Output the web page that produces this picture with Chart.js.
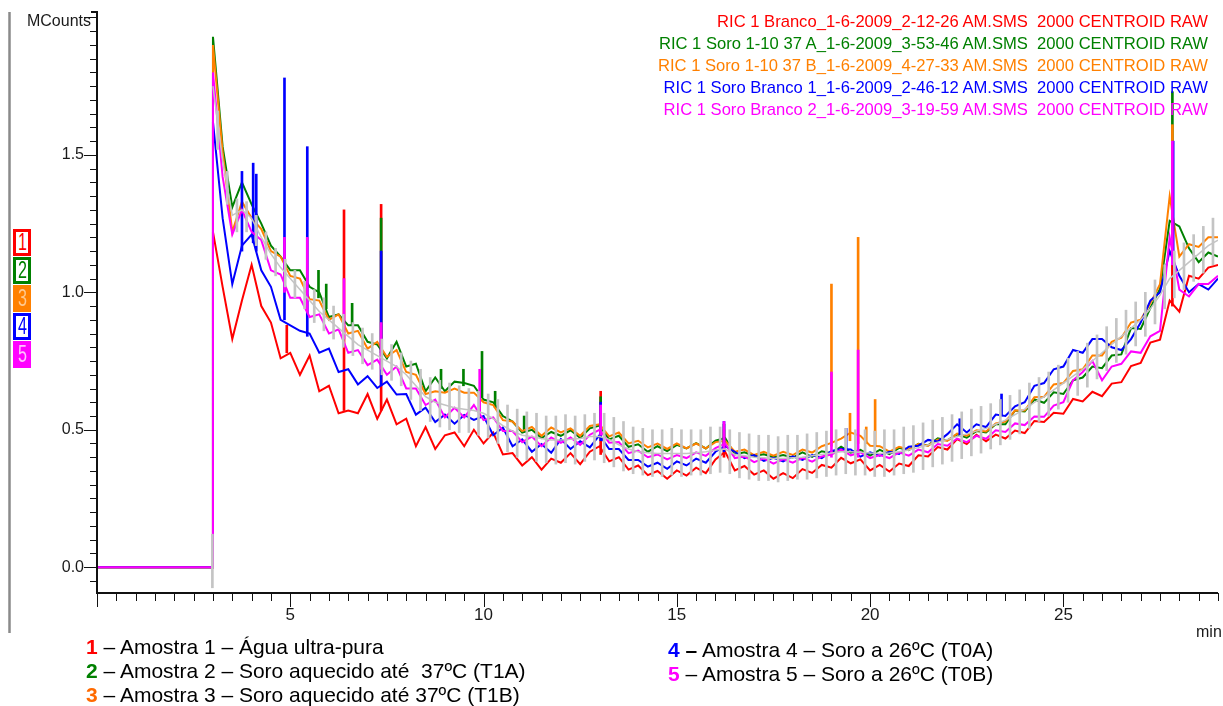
<!DOCTYPE html>
<html lang="pt">
<head>
<meta charset="utf-8">
<title>RIC 1 - Branco e Soro</title>
<script src="https://cdn.jsdelivr.net/npm/chart.js@4.4.1/dist/chart.umd.min.js"></script>
<style>
  html, body { margin: 0; padding: 0; background: #fff; }
  body { width: 1223px; height: 706px; position: relative; overflow: hidden;
         font-family: 'Liberation Sans', Arial, sans-serif; }
  #chromatogram { position: absolute; left: 0; top: 0; }
  .runs { position: absolute; right: 15px; top: 11px; text-align: right;
          font-size: 16.6px; line-height: 22px; white-space: pre; }
  .tags { position: absolute; left: 13px; top: 229px; }
  .tag { box-sizing: border-box; width: 18px; height: 27px; border: 3px solid;
         margin-bottom: 1px; background: #fff; text-align: center;
         font-size: 23px; line-height: 21px; overflow: hidden; }
  .tag span { display: inline-block; transform: scaleX(0.7); }
  .key { position: absolute; font-size: 21px; line-height: 24px; white-space: pre; color: #000; }
</style>
</head>
<body>
<canvas id="chromatogram" width="1223" height="706"></canvas>
<div class="runs" id="runs"></div>
<div class="tags" id="tags"></div>
<div class="key" id="keyLeft" style="left:86px; top:635px;"></div>
<div class="key" id="keyRight" style="left:668px; top:638px;"></div>
<script>
// RIC traces in MCounts, one reading every 0.25 min from the injection at 3.0 min
const scanStart = 3.0;
const scanStep = 0.25;

const ricAgua = [
  1.22, 1.02, 0.83, 0.97, 1.10, 0.95, 0.89, 0.76, 0.78, 0.70,
  0.77, 0.64, 0.66, 0.56, 0.57, 0.56, 0.63, 0.54, 0.61, 0.52,
  0.54, 0.44, 0.51, 0.43, 0.48, 0.49, 0.44, 0.50, 0.45, 0.49,
  0.41, 0.415, 0.37, 0.40, 0.355, 0.395, 0.38, 0.415, 0.375, 0.42,
  0.44, 0.385, 0.40, 0.355, 0.37, 0.335, 0.35, 0.322, 0.352, 0.333,
  0.362, 0.342, 0.392, 0.42, 0.352, 0.368, 0.337, 0.352, 0.322, 0.342,
  0.324, 0.357, 0.343, 0.372, 0.362, 0.398, 0.378, 0.392, 0.352, 0.372,
  0.348, 0.377, 0.368, 0.407, 0.403, 0.437, 0.428, 0.466, 0.448, 0.482,
  0.458, 0.482, 0.468, 0.497, 0.488, 0.532, 0.528, 0.562, 0.558, 0.612,
  0.603, 0.638, 0.622, 0.668, 0.673, 0.732, 0.743, 0.817, 0.828, 0.97,
  0.93, 1.06, 1.05, 1.09, 1.10
];
const ricSoro37A = [
  1.93, 1.53, 1.31, 1.40, 1.32, 1.25, 1.17, 1.13, 1.08, 1.08,
  1.02, 1.00, 0.91, 0.92, 0.88, 0.88, 0.82, 0.81, 0.76, 0.82,
  0.73, 0.74, 0.64, 0.69, 0.64, 0.675, 0.67, 0.66, 0.61, 0.60,
  0.55, 0.53, 0.49, 0.50, 0.47, 0.492, 0.478, 0.498, 0.47, 0.505,
  0.515, 0.465, 0.478, 0.438, 0.447, 0.42, 0.44, 0.422, 0.445, 0.432,
  0.451, 0.432, 0.46, 0.47, 0.41, 0.418, 0.405, 0.411, 0.40, 0.408,
  0.399, 0.418, 0.401, 0.422, 0.415, 0.438, 0.417, 0.427, 0.406, 0.427,
  0.411, 0.434, 0.426, 0.449, 0.443, 0.469, 0.461, 0.483, 0.471, 0.495,
  0.49, 0.52, 0.52, 0.57, 0.567, 0.61, 0.598, 0.636, 0.63, 0.68,
  0.69, 0.73, 0.724, 0.77, 0.774, 0.87, 0.867, 0.943, 1.012, 1.26,
  1.24, 1.16, 1.11, 1.145, 1.13
];
const ricSoro37B = [
  1.90, 1.51, 1.22, 1.33, 1.27, 1.23, 1.15, 1.13, 1.06, 1.05,
  0.975, 0.97, 0.90, 0.92, 0.85, 0.86, 0.795, 0.82, 0.765, 0.79,
  0.71, 0.70, 0.63, 0.64, 0.635, 0.65, 0.635, 0.635, 0.60, 0.59,
  0.535, 0.53, 0.495, 0.51, 0.478, 0.508, 0.49, 0.505, 0.478, 0.514,
  0.52, 0.476, 0.49, 0.45, 0.46, 0.436, 0.45, 0.43, 0.45, 0.432,
  0.45, 0.432, 0.455, 0.46, 0.42, 0.428, 0.408, 0.42, 0.406, 0.42,
  0.408, 0.428, 0.417, 0.44, 0.452, 0.468, 0.49, 0.478, 0.442, 0.44,
  0.42, 0.438, 0.428, 0.448, 0.442, 0.464, 0.46, 0.486, 0.478, 0.498,
  0.494, 0.523, 0.53, 0.57, 0.57, 0.618, 0.62, 0.665, 0.67, 0.714,
  0.72, 0.77, 0.77, 0.82, 0.835, 0.89, 0.90, 0.96, 1.03, 1.35,
  1.13, 1.175, 1.165, 1.20, 1.20
];
const ricSoro26A = [
  1.62, 1.27, 1.03, 1.17, 1.21, 1.08, 1.02, 0.90, 0.88, 0.86,
  0.85, 0.78, 0.795, 0.71, 0.72, 0.665, 0.695, 0.652, 0.675, 0.628,
  0.63, 0.555, 0.58, 0.528, 0.555, 0.522, 0.554, 0.536, 0.55, 0.48,
  0.508, 0.44, 0.465, 0.42, 0.448, 0.416, 0.466, 0.43, 0.458, 0.436,
  0.48, 0.43, 0.43, 0.39, 0.39, 0.366, 0.38, 0.358, 0.385, 0.37,
  0.395, 0.38, 0.42, 0.44, 0.42, 0.397, 0.408, 0.387, 0.398, 0.385,
  0.403, 0.39, 0.408, 0.397, 0.423, 0.43, 0.428, 0.402, 0.418, 0.406,
  0.42, 0.412, 0.438, 0.442, 0.463, 0.457, 0.484, 0.52, 0.49, 0.52,
  0.51, 0.555, 0.55, 0.585, 0.60, 0.66, 0.67, 0.72, 0.73, 0.79,
  0.78, 0.83, 0.83, 0.80, 0.79, 0.83, 0.89, 0.97, 1.00, 1.15,
  1.06, 1.00, 1.03, 1.01, 1.05
];
const ricSoro26B = [
  1.80, 1.42, 1.21, 1.30, 1.22, 1.19, 1.08, 1.065, 0.98, 0.98,
  0.91, 0.92, 0.85, 0.865, 0.78, 0.79, 0.735, 0.755, 0.70, 0.73,
  0.65, 0.65, 0.59, 0.61, 0.545, 0.58, 0.545, 0.59, 0.535, 0.545,
  0.495, 0.495, 0.455, 0.475, 0.44, 0.472, 0.452, 0.472, 0.445, 0.482,
  0.50, 0.453, 0.455, 0.415, 0.424, 0.40, 0.41, 0.392, 0.408, 0.397,
  0.418, 0.405, 0.433, 0.45, 0.397, 0.403, 0.382, 0.396, 0.377, 0.393,
  0.38, 0.398, 0.384, 0.403, 0.41, 0.428, 0.407, 0.418, 0.397, 0.408,
  0.397, 0.418, 0.406, 0.428, 0.418, 0.448, 0.442, 0.468, 0.455, 0.478,
  0.467, 0.498, 0.492, 0.523, 0.517, 0.548, 0.547, 0.588, 0.60, 0.68,
  0.71, 0.75, 0.68, 0.73, 0.74, 0.785, 0.78, 0.84, 0.86, 1.20,
  1.01, 0.985, 1.03, 1.03, 1.06
];
// unlabelled grey trace: smoothed level plus its scan-to-scan swing
const ricGrey = [
  1.75, 1.48, 1.28, 1.30, 1.27, 1.20, 1.14, 1.09, 1.05, 1.01,
  0.97, 0.93, 0.90, 0.87, 0.84, 0.81, 0.79, 0.77, 0.75, 0.73,
  0.70, 0.66, 0.62, 0.60, 0.59, 0.58, 0.575, 0.57, 0.56, 0.54,
  0.515, 0.495, 0.48, 0.475, 0.468, 0.463, 0.463, 0.465, 0.468, 0.475,
  0.475, 0.465, 0.445, 0.43, 0.42, 0.416, 0.414, 0.414, 0.414, 0.414,
  0.416, 0.42, 0.426, 0.43, 0.41, 0.405, 0.40, 0.398, 0.395, 0.395,
  0.398, 0.40, 0.405, 0.41, 0.415, 0.42, 0.42, 0.418, 0.415, 0.414,
  0.415, 0.42, 0.426, 0.435, 0.445, 0.455, 0.465, 0.475, 0.485, 0.495,
  0.505, 0.52, 0.535, 0.555, 0.575, 0.60, 0.62, 0.645, 0.67, 0.695,
  0.72, 0.75, 0.78, 0.81, 0.84, 0.87, 0.90, 0.94, 0.99, 1.05,
  1.08, 1.11, 1.14, 1.17, 1.19
];
const greyHigh = [
  1.66, 1.44, 1.34, 1.33, 1.28, 1.22, 1.16, 1.12, 1.08, 1.04,
  1.01, 0.98, 0.95, 0.92, 0.89, 0.87, 0.85, 0.83, 0.81, 0.78,
  0.75, 0.72, 0.69, 0.68, 0.67, 0.66, 0.65, 0.64, 0.63, 0.61,
  0.59, 0.575, 0.565, 0.56, 0.55, 0.55, 0.555, 0.55, 0.555, 0.56,
  0.56, 0.545, 0.53, 0.51, 0.505, 0.50, 0.50, 0.505, 0.50, 0.50,
  0.50, 0.51, 0.51, 0.50, 0.49, 0.485, 0.48, 0.48, 0.475, 0.48,
  0.48, 0.485, 0.49, 0.495, 0.50, 0.505, 0.50, 0.50, 0.495, 0.50,
  0.50, 0.51, 0.515, 0.525, 0.535, 0.545, 0.555, 0.565, 0.575, 0.585,
  0.595, 0.61, 0.625, 0.645, 0.67, 0.69, 0.71, 0.735, 0.76, 0.785,
  0.815, 0.845, 0.875, 0.905, 0.935, 0.965, 1.00, 1.045, 1.10, 1.15,
  1.18, 1.21, 1.24, 1.27
];
const greyLow = [
  1.52, 1.32, 1.22, 1.22, 1.17, 1.12, 1.06, 1.02, 0.98, 0.94,
  0.89, 0.86, 0.83, 0.80, 0.77, 0.74, 0.72, 0.70, 0.68, 0.66,
  0.61, 0.57, 0.53, 0.51, 0.50, 0.49, 0.49, 0.48, 0.47, 0.45,
  0.42, 0.40, 0.39, 0.385, 0.38, 0.375, 0.38, 0.375, 0.385, 0.39,
  0.38, 0.365, 0.35, 0.34, 0.335, 0.33, 0.33, 0.335, 0.33, 0.335,
  0.335, 0.34, 0.345, 0.34, 0.325, 0.32, 0.315, 0.315, 0.31, 0.315,
  0.32, 0.32, 0.325, 0.33, 0.335, 0.34, 0.335, 0.335, 0.33, 0.33,
  0.335, 0.34, 0.345, 0.355, 0.365, 0.375, 0.385, 0.395, 0.405, 0.415,
  0.43, 0.445, 0.465, 0.485, 0.505, 0.53, 0.55, 0.575, 0.60, 0.625,
  0.655, 0.685, 0.715, 0.745, 0.775, 0.805, 0.84, 0.885, 0.94, 0.98,
  1.01, 1.04, 1.07, 1.10
];
const greyDip = [2.985, -0.075, 0.12];

// flat signal before the injection
const preInjection = [[0, 0], [2.99, 0]];

// narrow peaks: [min, foot, top]
const aguaPeaks = [[4.91, 0.78, 0.88], [6.39, 0.57, 1.30], [7.35, 0.57, 1.32],
  [13.03, 0.41, 0.64], [16.22, 0.40, 0.47], [27.82, 0.95, 1.10]];
const soro37APeaks = [[5.73, 0.98, 1.08], [5.93, 0.94, 1.03], [6.6, 0.88, 0.96],
  [7.35, 0.78, 1.27], [8.9, 0.65, 0.72], [9.48, 0.66, 0.72], [9.96, 0.62, 0.785],
  [10.3, 0.58, 0.64], [11.05, 0.50, 0.55], [13.03, 0.50, 0.62], [16.22, 0.45, 0.52],
  [27.82, 1.20, 1.73]];
const soro37BPeaks = [[13.03, 0.50, 0.58], [16.22, 0.45, 0.50], [19.0, 0.44, 1.03],
  [19.48, 0.46, 0.56], [19.69, 0.45, 1.20], [19.9, 0.45, 0.51], [20.13, 0.44, 0.61],
  [27.82, 1.20, 1.61]];
const soro26APeaks = [[3.75, 1.15, 1.44], [4.04, 1.18, 1.47], [4.12, 1.15, 1.43],
  [4.85, 0.90, 1.78], [5.44, 0.84, 1.53], [7.35, 0.66, 1.15], [13.03, 0.46, 0.60],
  [16.22, 0.42, 0.53], [19.38, 0.42, 0.505], [22.32, 0.48, 0.54], [23.4, 0.55, 0.63],
  [27.84, 1.10, 1.55]];
const soro26BPeaks = [[4.85, 1.0, 1.20], [5.44, 0.93, 1.20], [6.39, 0.83, 1.05],
  [7.35, 0.72, 0.89], [9.9, 0.56, 0.72], [13.03, 0.48, 0.59], [16.22, 0.43, 0.53],
  [19.0, 0.40, 0.71], [19.69, 0.40, 0.79], [27.82, 1.10, 1.55]];

const runNames = [
  'RIC 1 Branco_1-6-2009_2-12-26 AM.SMS  2000 CENTROID RAW',
  'RIC 1 Soro 1-10 37 A_1-6-2009_3-53-46 AM.SMS  2000 CENTROID RAW',
  'RIC 1 Soro 1-10 37 B_1-6-2009_4-27-33 AM.SMS  2000 CENTROID RAW',
  'RIC 1 Soro Branco 1_1-6-2009_2-46-12 AM.SMS  2000 CENTROID RAW',
  'RIC 1 Soro Branco 2_1-6-2009_3-19-59 AM.SMS  2000 CENTROID RAW'
];
const sampleNames = [
  'Amostra 1 – Água ultra-pura',
  'Amostra 2 – Soro aquecido até  37ºC (T1A)',
  'Amostra 3 – Soro aquecido até 37ºC (T1B)',
  'Amostra 4 – Soro a 26ºC (T0A)',
  'Amostra 5 – Soro a 26ºC (T0B)'
];
const runColors = ['#ff0000', '#008000', '#ff8000', '#0000ff', '#ff00ff'];
const keyColors = ['#ff0000', '#008000', '#ff6a00', '#0000ff', '#ff00ff'];
const greyColor = '#c4c4c4';

const yTickValues = [0, 0.5, 1.0, 1.5];
const yTickLabels = ['0.0', '0.5', '1.0', '1.5'];
const xTickValues = [5, 10, 15, 20, 25];
const xTickLabels = ['5', '10', '15', '20', '25'];
const yUnit = 'MCounts';
const xUnit = 'min';

const minutes = ricAgua.map((_, i) => +(scanStart + i * scanStep).toFixed(2));

function trace(values, withBaseline) {
  const pts = values.map((v, i) => ({ x: minutes[i], y: v }));
  return withBaseline ? preInjection.map(([x, y]) => ({ x, y })).concat(pts) : pts;
}
function peaks(list) {
  return list.map(([t, lo, hi]) => ({ x: t, y: [lo, hi] }));
}

const traces = [ricAgua, ricSoro37A, ricSoro37B, ricSoro26A, ricSoro26B];
const peakLists = [aguaPeaks, soro37APeaks, soro37BPeaks, soro26APeaks, soro26BPeaks];
// magenta on top, red at the bottom
const drawOrder = [6, 5, 4, 3, 2];

const datasets = [];
traces.forEach((values, k) => {
  datasets.push({
    type: 'line', data: trace(values, true), borderColor: runColors[k],
    borderWidth: 2, pointRadius: 0, tension: 0, fill: false, order: drawOrder[k]
  });
  datasets.push({
    type: 'bar', data: peaks(peakLists[k]), backgroundColor: runColors[k],
    barThickness: 2, grouped: false, borderWidth: 0, order: drawOrder[k]
  });
});
const greyBars = [greyDip].concat(greyHigh.map((h, i) => [minutes[i] + 0.12, greyLow[i], h]));
datasets.push({
  type: 'line', data: trace(ricGrey, false), borderColor: greyColor,
  borderWidth: 1.5, pointRadius: 0, tension: 0, fill: false, order: 1
});
datasets.push({
  type: 'bar', data: peaks(greyBars), backgroundColor: greyColor,
  barThickness: 2, grouped: false, borderWidth: 0, order: 0
});

// axes with 0.05 / 0.5 min minor ticks, drawn off the chart scales
const axesPainter = {
  id: 'axesPainter',
  afterDatasetsDraw(chart) {
    const { ctx, chartArea: area, scales: { x, y } } = chart;
    ctx.save();
    ctx.strokeStyle = '#8a8a8a';
    ctx.lineWidth = 2.5;
    ctx.beginPath();
    ctx.moveTo(9.5, area.top);
    ctx.lineTo(9.5, 633);
    ctx.stroke();

    ctx.strokeStyle = '#111';
    ctx.lineWidth = 2;
    ctx.beginPath();
    ctx.moveTo(area.left - 6, area.top);
    ctx.lineTo(area.left, area.top);
    ctx.lineTo(area.left, area.bottom);
    ctx.lineTo(area.right, area.bottom);
    ctx.stroke();

    ctx.lineWidth = 1;
    for (let k = -1; k <= 40; k++) {
      const py = Math.round(y.getPixelForValue(k * 0.05)) + 0.5;
      const len = k % 10 === 0 ? 13 : 7;
      ctx.beginPath();
      ctx.moveTo(area.left - len, py);
      ctx.lineTo(area.left, py);
      ctx.stroke();
    }
    for (let k = 0; k <= 58; k++) {
      const px = Math.round(x.getPixelForValue(k * 0.5)) + 0.5;
      const len = k % 10 === 0 ? 14 : 8;
      ctx.beginPath();
      ctx.moveTo(px, area.bottom);
      ctx.lineTo(px, area.bottom + len);
      ctx.stroke();
    }

    ctx.fillStyle = '#1a1a1a';
    ctx.textBaseline = 'middle';
    ctx.font = '16px "Liberation Sans", Arial, sans-serif';
    ctx.textAlign = 'right';
    yTickValues.forEach((v, i) => ctx.fillText(yTickLabels[i], area.left - 13, y.getPixelForValue(v)));
    ctx.fillText(yUnit, area.left - 6, 22);
    ctx.font = '17px "Liberation Sans", Arial, sans-serif';
    ctx.textAlign = 'center';
    xTickValues.forEach((v, i) => ctx.fillText(xTickLabels[i], x.getPixelForValue(v), area.bottom + 22));
    ctx.font = '16px "Liberation Sans", Arial, sans-serif';
    ctx.textAlign = 'left';
    ctx.fillText(xUnit, 1196, 633);
    ctx.restore();
  }
};

new Chart(document.getElementById('chromatogram'), {
  type: 'line',
  data: { datasets },
  options: {
    responsive: false,
    animation: false,
    events: [],
    layout: { padding: { left: 0, top: 12, right: 5, bottom: 0 } },
    plugins: { legend: { display: false }, tooltip: { enabled: false } },
    scales: {
      x: {
        type: 'linear', min: 0, max: 29, offset: false,
        grid: { display: false }, border: { display: false }, ticks: { display: false },
        afterFit: s => { s.height = 113; }
      },
      y: {
        type: 'linear', min: -0.094, max: 2.02,
        grid: { display: false }, border: { display: false }, ticks: { display: false },
        afterFit: s => { s.width = 97; }
      }
    }
  },
  plugins: [axesPainter]
});

// run names, top right
const runs = document.getElementById('runs');
runNames.forEach((name, k) => {
  const line = document.createElement('div');
  line.style.color = runColors[k];
  line.textContent = name;
  runs.appendChild(line);
});

// numbered trace tags on the left edge
const tags = document.getElementById('tags');
runColors.forEach((c, k) => {
  const tag = document.createElement('div');
  tag.className = 'tag';
  tag.style.borderColor = c;
  const filled = k === 2 || k === 4;
  if (filled) tag.style.background = c;
  const digit = document.createElement('span');
  digit.textContent = String(k + 1);
  digit.style.color = filled ? (k === 2 ? '#ffc890' : '#ffc0ff') : c;
  tag.appendChild(digit);
  tags.appendChild(tag);
});

// sample key under the chart
function keyLine(k) {
  const row = document.createElement('div');
  const num = document.createElement('b');
  num.style.color = keyColors[k];
  num.textContent = String(k + 1);
  row.appendChild(num);
  if (k === 3) {
    const dash = document.createElement('b');
    dash.textContent = ' –';
    row.appendChild(dash);
    row.appendChild(document.createTextNode(' ' + sampleNames[k]));
  } else {
    row.appendChild(document.createTextNode(' – ' + sampleNames[k]));
  }
  return row;
}
[0, 1, 2].forEach(k => document.getElementById('keyLeft').appendChild(keyLine(k)));
[3, 4].forEach(k => document.getElementById('keyRight').appendChild(keyLine(k)));
</script>
</body>
</html>
